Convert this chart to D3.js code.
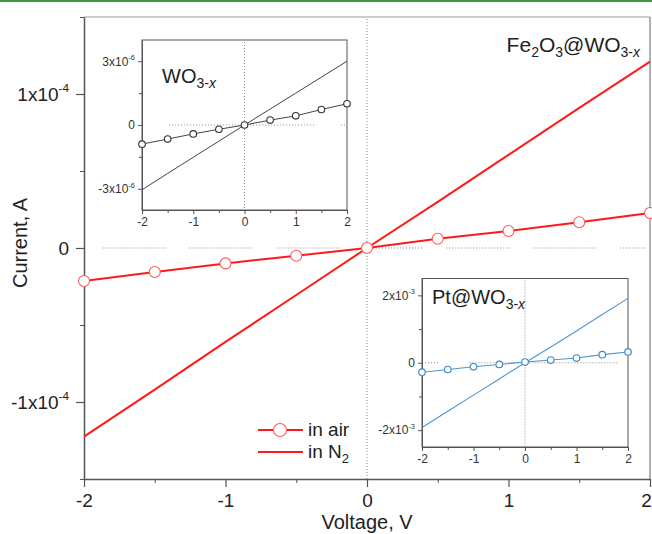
<!DOCTYPE html>
<html>
<head>
<meta charset="utf-8">
<script src="https://cdn.jsdelivr.net/npm/d3@7"></script>
<style>
  body { margin: 0; background: #fff; }
  svg { display: block; font-family: "Liberation Sans", Arial, sans-serif; }
</style>
</head>
<body>
<div id="chart"></div>
<script>
// voltages used by every curve
const volts = [-2, -1.5, -1, -0.5, 0, 0.5, 1, 1.5, 2];

// main plot: Fe2O3@WO3-x (A)
const mainAir = [-0.214e-4, -0.156e-4, -0.10e-4, -0.05e-4, 0, 0.06e-4, 0.11e-4, 0.167e-4, 0.227e-4];
const mainN2 = [-1.225e-4, -0.92e-4, -0.61e-4, -0.305e-4, 0, 0.30e-4, 0.605e-4, 0.91e-4, 1.21e-4];

// inset: WO3-x (A)
const wo3Air = [-0.9e-6, -0.66e-6, -0.42e-6, -0.2e-6, 0, 0.23e-6, 0.43e-6, 0.73e-6, 1.0e-6];
const wo3N2 = [-3.05e-6, -2.28e-6, -1.52e-6, -0.76e-6, 0, 0.75e-6, 1.5e-6, 2.25e-6, 3.0e-6];

// inset: Pt@WO3-x (A)
const ptAir = [-0.28e-3, -0.2e-3, -0.12e-3, -0.05e-3, 0.02e-3, 0.08e-3, 0.14e-3, 0.24e-3, 0.32e-3];
const ptN2 = [-1.92e-3, -1.44e-3, -0.96e-3, -0.48e-3, 0, 0.47e-3, 0.94e-3, 1.43e-3, 1.91e-3];

// ticks
const xMajor = [-2, -1, 0, 1, 2];
const xMinor = [-1.5, -0.5, 0.5, 1.5];
const mainYMajor = [-1e-4, 0, 1e-4];
const mainYMinor = [-1.5e-4, -0.5e-4, 0.5e-4, 1.5e-4];
const mainYLabels = [["-1x10", "-4"], ["0", ""], ["1x10", "-4"]];
const wo3YMajor = [-3e-6, 0, 3e-6];
const wo3YMinor = [-1.5e-6, 1.5e-6];
const wo3YLabels = [["-3x10", "-6"], ["0", ""], ["3x10", "-6"]];
const ptYMajor = [-2e-3, 0, 2e-3];
const ptYMinor = [-1e-3, 1e-3];
const ptYLabels = [["-2x10", "-3"], ["0", ""], ["2x10", "-3"]];

const W = 652, H = 534;
const svg = d3.select("#chart").append("svg").attr("width", W).attr("height", H);

// green rule at top of page
svg.append("rect").attr("x", 0).attr("y", 0).attr("width", W).attr("height", 2).attr("fill", "#3d9a44");

const axisCol = "#555";

function dottedZero(g, x, y, dx, dy) {
  g.append("line")
    .attr("x1", x(dx[0])).attr("x2", x(dx[1]))
    .attr("y1", y(dy[0])).attr("y2", y(dy[1]))
    .attr("stroke", "#888").attr("stroke-width", 1)
    .attr("stroke-dasharray", "1,2");
}

function superLabels(sel, labels, size, supSize) {
  sel.selectAll(".tick text").each(function(d, i) {
    const t = d3.select(this);
    t.text(null);
    t.append("tspan").text(labels[i][0]);
    if (labels[i][1]) {
      t.append("tspan").attr("dy", -size * 0.45).attr("font-size", supSize).text(labels[i][1]);
    }
  });
}

function drawPanel(opt) {
  const g = svg.append("g");
  const x = d3.scaleLinear().domain([-2, 2]).range([opt.left, opt.right]);
  const y = d3.scaleLinear().domain(opt.ydom).range([opt.bottom, opt.top]);

  if (opt.box) {
    g.append("rect")
      .attr("x", opt.left).attr("y", opt.top)
      .attr("width", opt.right - opt.left).attr("height", opt.bottom - opt.top)
      .attr("fill", "#fff").attr("stroke", axisCol).attr("stroke-width", 1);
  } else {
    g.append("line").attr("x1", opt.left).attr("x2", opt.right).attr("y1", opt.top).attr("y2", opt.top)
      .attr("stroke", "#999").attr("stroke-width", 1);
    g.append("line").attr("x1", opt.right).attr("x2", opt.right).attr("y1", opt.top).attr("y2", opt.bottom)
      .attr("stroke", "#999").attr("stroke-width", 1.5);
  }

  // zero reference lines
  opt.hDots.forEach(seg => dottedZero(g, x, y, seg, [0, 0]));
  g.append("line")
    .attr("x1", x(0)).attr("x2", x(0)).attr("y1", opt.top + 2).attr("y2", opt.bottom)
    .attr("stroke", "#888").attr("stroke-width", 1).attr("stroke-dasharray", "1,2");

  // minor ticks
  g.append("g").attr("transform", `translate(0,${opt.bottom})`)
    .call(d3.axisBottom(x).tickValues(xMinor).tickSize(opt.minorLen).tickFormat(""))
    .call(a => a.select(".domain").remove())
    .selectAll("line").attr("stroke", axisCol);
  g.append("g").attr("transform", `translate(${opt.left},0)`)
    .call(d3.axisLeft(y).tickValues(opt.yMinor).tickSize(opt.minorLen).tickFormat(""))
    .call(a => a.select(".domain").remove())
    .selectAll("line").attr("stroke", axisCol);

  // major axes
  const xa = g.append("g").attr("transform", `translate(0,${opt.bottom})`)
    .call(d3.axisBottom(x).tickValues(xMajor).tickSize(opt.majorLen).tickSizeOuter(0).tickPadding(opt.pad)
      .tickFormat(d => String(d)));
  const ya = g.append("g").attr("transform", `translate(${opt.left},0)`)
    .call(d3.axisLeft(y).tickValues(opt.yMajor).tickSize(opt.majorLen).tickSizeOuter(0).tickPadding(opt.pad));
  [xa, ya].forEach(a => {
    a.select(".domain").attr("stroke", axisCol).attr("stroke-width", opt.axisW);
    a.selectAll("line").attr("stroke", axisCol).attr("stroke-width", opt.axisW > 1 ? 1.2 : 1);
    a.selectAll("text").attr("font-size", opt.fs).attr("fill", opt.tcol)
      .attr("font-family", "Liberation Sans, Arial, sans-serif");
  });
  if (opt.lastShift) {
    xa.selectAll(".tick text").filter(d => d === 2).attr("dx", opt.lastShift);
  }
  superLabels(ya, opt.yLabels, opt.fs, opt.fs * 0.62);

  const lineGen = arr => d3.line().x((d, i) => x(volts[i])).y(d => y(d))(arr);
  g.append("path").attr("d", lineGen(opt.n2)).attr("fill", "none")
    .attr("stroke", opt.col).attr("stroke-width", opt.lw);
  g.append("path").attr("d", lineGen(opt.air)).attr("fill", "none")
    .attr("stroke", opt.col).attr("stroke-width", opt.lw);
  g.selectAll("circle.m").data(opt.air).join("circle")
    .attr("cx", (d, i) => x(volts[i])).attr("cy", d => y(d)).attr("r", opt.r)
    .attr("fill", "#fff").attr("stroke", opt.mcol).attr("stroke-width", 1.1);
  return { g, x, y };
}

// main panel
drawPanel({
  left: 84, right: 650, top: 17, bottom: 479, ydom: [-1.5e-4, 1.5e-4],
  yMajor: mainYMajor, yMinor: mainYMinor, yLabels: mainYLabels,
  majorLen: 8, minorLen: 4, pad: 7, fs: 19, tcol: "#222", axisW: 1.5, lastShift: -4,
  air: mainAir, n2: mainN2, col: "#ff1a1a", mcol: "#ff5a5a", lw: 2, r: 5.5,
  hDots: [[-1.87, -1.42], [-1.26, -0.81], [-0.64, -0.19], [0, 0.39], [0.56, 1.01], [1.17, 1.62], [1.79, 1.98]],
  box: false
});

// main axis titles
svg.append("text").attr("x", 367).attr("y", 529).attr("text-anchor", "middle")
  .attr("font-size", 20).attr("fill", "#222").text("Voltage, V");
svg.append("text").attr("transform", "translate(27,243) rotate(-90)").attr("text-anchor", "middle")
  .attr("font-size", 20).attr("fill", "#222").text("Current, A");

// main label
const lab = svg.append("text").attr("x", 640).attr("y", 52).attr("text-anchor", "end")
  .attr("font-size", 21).attr("fill", "#222");
lab.append("tspan").text("Fe");
lab.append("tspan").attr("dy", 5).attr("font-size", 14).text("2");
lab.append("tspan").attr("dy", -5).text("O");
lab.append("tspan").attr("dy", 5).attr("font-size", 14).text("3");
lab.append("tspan").attr("dy", -5).text("@WO");
lab.append("tspan").attr("dy", 5).attr("font-size", 14).text("3-");
lab.append("tspan").attr("font-size", 14).attr("font-style", "italic").text("x");

// legend
const leg = svg.append("g");
[["in air", 430, true], ["in N", 452, false]].forEach(([t, ly, mk]) => {
  leg.append("line").attr("x1", 258).attr("x2", 303).attr("y1", ly).attr("y2", ly)
    .attr("stroke", "#ff1a1a").attr("stroke-width", 2);
  if (mk) leg.append("circle").attr("cx", 280).attr("cy", ly).attr("r", 6.5)
    .attr("fill", "#fff").attr("stroke", "#ff5a5a").attr("stroke-width", 1.1);
  const tx = leg.append("text").attr("x", 308).attr("y", ly + 6).attr("font-size", 19).attr("fill", "#222").text(t);
  if (!mk) tx.append("tspan").attr("dy", 5).attr("font-size", 13).text("2");
});

// inset WO3-x
drawPanel({
  left: 142, right: 347, top: 40, bottom: 210, ydom: [-4e-6, 4e-6],
  yMajor: wo3YMajor, yMinor: wo3YMinor, yLabels: wo3YLabels,
  majorLen: 4, minorLen: 3, pad: 3, fs: 12, tcol: "#333", axisW: 1,
  air: wo3Air, n2: wo3N2, col: "#444", mcol: "#333", lw: 1, r: 3.3,
  hDots: [[-1.47, 1.4], [1.88, 2]],
  box: true
});
const l1 = svg.append("text").attr("x", 162).attr("y", 83).attr("font-size", 20).attr("fill", "#222");
l1.append("tspan").text("WO");
l1.append("tspan").attr("dy", 5).attr("font-size", 14).text("3-");
l1.append("tspan").attr("font-size", 14).attr("font-style", "italic").text("x");

// inset Pt@WO3-x
drawPanel({
  left: 422, right: 628, top: 278.5, bottom: 447, ydom: [-2.5e-3, 2.5e-3],
  yMajor: ptYMajor, yMinor: ptYMinor, yLabels: ptYLabels,
  majorLen: 4, minorLen: 3, pad: 3, fs: 12, tcol: "#333", axisW: 1,
  air: ptAir, n2: ptN2, col: "#4a96d6", mcol: "#3a88cc", lw: 1.1, r: 3.3,
  hDots: [[-2, -1.67], [-1.08, 1.82]],
  box: true
});
const l2 = svg.append("text").attr("x", 432).attr("y", 304).attr("font-size", 20).attr("fill", "#222");
l2.append("tspan").text("Pt@WO");
l2.append("tspan").attr("dy", 5).attr("font-size", 14).text("3-");
l2.append("tspan").attr("font-size", 14).attr("font-style", "italic").text("x");
</script>
</body>
</html>
